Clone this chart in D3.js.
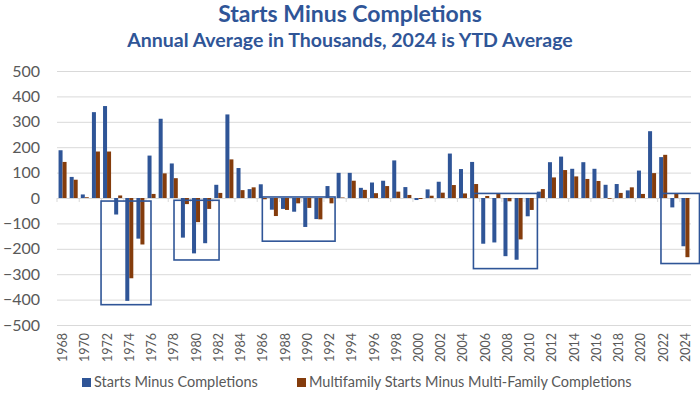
<!DOCTYPE html>
<html>
<head>
<meta charset="utf-8">
<script src="https://cdn.jsdelivr.net/npm/d3@7"></script>
<style>
  body { margin: 0; background: #fff; }
  svg { font-family: Lato, "Open Sans", sans-serif; }
</style>
</head>
<body>
<div id="vis"></div>
<script>
// chart data (thousands, annual average)
const YEARS = [1968, 1969, 1970, 1971, 1972, 1973, 1974, 1975, 1976, 1977,
               1978, 1979, 1980, 1981, 1982, 1983, 1984, 1985, 1986, 1987,
               1988, 1989, 1990, 1991, 1992, 1993, 1994, 1995, 1996, 1997,
               1998, 1999, 2000, 2001, 2002, 2003, 2004, 2005, 2006, 2007,
               2008, 2009, 2010, 2011, 2012, 2013, 2014, 2015, 2016, 2017,
               2018, 2019, 2020, 2021, 2022, 2023, 2024];
const TOTAL = [188, 83, 14, 338, 362, -65, -405, -160, 167, 312,
               136, -156, -218, -178, 52, 329, 118, 35, 54, -46,
               -43, -54, -114, -83, 47, 99, 99, 40, 61, 68,
               148, 43, -8, 34, 64, 175, 114, 142, -180, -175,
               -229, -243, -72, 25, 141, 163, 115, 141, 115, 52,
               55, 30, 108, 263, 161, -37, -190];
const MULTI = [142, 72, 3, 183, 183, 10, -316, -183, 16, 97,
               78, -24, -95, -43, 20, 152, 31, 42, -5, -71,
               -47, -21, -39, -84, -21, 2, 68, 32, 19, 47,
               25, 12, -4, 9, 21, 51, 18, 55, 8, 17,
               -13, -163, -47, 35, 81, 110, 85, 75, 67, -3,
               20, 42, 16, 98, 170, 16, -233];
const Y_TICKS = [-500, -400, -300, -200, -100, 0, 100, 200, 300, 400, 500];
const SERIES_NAMES = ['Starts Minus Completions', 'Multifamily Starts Minus Multi-Family Completions'];
// highlighted periods: [from year, to year, top value, bottom value]
const BOXES = [[1971.46, 1975.95, -12, -420],
               [1978.02, 1982.07, -9, -244],
               [1985.96, 1992.5, 4, -170],
               [2004.94, 2010.69, 18, -278],
               [2021.8, 2025.26, 18, -258]];

const WIDTH = 700, HEIGHT = 394;
const MARGINS = {left: 57, right: 9, top: 71, bottom: 69};
const COLORS = ['#2F5597', '#843C0C'];
const TEXT_COLOR = '#595959';

const svg = d3.select('#vis').append('svg')
    .attr('width', WIDTH)
    .attr('height', HEIGHT);

const X_SCALE = d3.scaleBand()
    .domain(YEARS)
    .range([MARGINS.left, WIDTH - MARGINS.right])
    .paddingInner(0.28)
    .paddingOuter(0.14);

const X_SUB = d3.scaleBand()
    .domain([0, 1])
    .range([0, X_SCALE.bandwidth()]);

// continuous year position for the boxes
const X_LIN = d3.scaleLinear()
    .domain([YEARS[0] - 0.5, YEARS[YEARS.length - 1] + 0.5])
    .range([MARGINS.left, WIDTH - MARGINS.right]);

const Y_SCALE = d3.scaleLinear()
    .domain([-500, 500])
    .range([HEIGHT - MARGINS.bottom, MARGINS.top]);

// titles
svg.append('text')
    .attr('x', 350).attr('y', 22)
    .attr('text-anchor', 'middle')
    .attr('font-size', 23).attr('font-weight', 'bold')
    .attr('fill', '#2F5597')
    .text('Starts Minus Completions');
svg.append('text')
    .attr('x', 350).attr('y', 47)
    .attr('text-anchor', 'middle')
    .attr('font-size', 19.5).attr('font-weight', 'bold')
    .attr('fill', '#2F5597')
    .text('Annual Average in Thousands, 2024 is YTD Average');

// y axis with gridlines
const yAxis = svg.append('g')
    .attr('transform', 'translate(' + MARGINS.left + ',0)')
    .call(d3.axisLeft(Y_SCALE).tickValues(Y_TICKS)
        .tickSize(-(WIDTH - MARGINS.left - MARGINS.right))
        .tickPadding(17)
        .tickFormat(d3.format('d')));
yAxis.select('.domain').remove();
yAxis.selectAll('line').attr('stroke', '#D9D9D9');
yAxis.selectAll('text')
    .attr('font-size', 16)
    .attr('fill', TEXT_COLOR)
    .attr('font-family', 'Lato, sans-serif');

// small ticks on zero line, every two categories
svg.append('g').selectAll('line')
    .data(YEARS.filter((d, i) => i % 2 === 0))
    .enter().append('line')
    .attr('x1', d => X_LIN(d - 0.5)).attr('x2', d => X_LIN(d - 0.5))
    .attr('y1', Y_SCALE(0)).attr('y2', Y_SCALE(0) + 4)
    .attr('stroke', '#D9D9D9');

// bars
const rows = YEARS.map((y, i) => ({year: y, vals: [TOTAL[i], MULTI[i]]}));
svg.append('g').selectAll('g')
    .data(rows)
    .enter().append('g')
    .attr('transform', d => 'translate(' + X_SCALE(d.year) + ',0)')
    .selectAll('rect')
    .data(d => d.vals.map((v, k) => ({k: k, v: v})))
    .enter().append('rect')
    .attr('x', d => X_SUB(d.k))
    .attr('width', X_SUB.bandwidth())
    .attr('y', d => Y_SCALE(Math.max(0, d.v)))
    .attr('height', d => Math.abs(Y_SCALE(d.v) - Y_SCALE(0)))
    .attr('fill', d => COLORS[d.k]);

// highlight boxes
svg.append('g').selectAll('rect')
    .data(BOXES)
    .enter().append('rect')
    .attr('x', d => X_LIN(d[0]))
    .attr('width', d => X_LIN(d[1]) - X_LIN(d[0]))
    .attr('y', d => Y_SCALE(d[2]))
    .attr('height', d => Y_SCALE(d[3]) - Y_SCALE(d[2]))
    .attr('fill', 'none')
    .attr('stroke', '#2F5597')
    .attr('stroke-width', 1.6);

// x labels (rotated)
svg.append('g').selectAll('text')
    .data(YEARS.filter((d, i) => i % 2 === 0))
    .enter().append('text')
    .attr('transform', d => 'translate(' + (X_SCALE(d) + X_SCALE.bandwidth() / 2 + 4.5) + ',333) rotate(-90)')
    .attr('text-anchor', 'end')
    .attr('font-size', 12.5)
    .attr('fill', TEXT_COLOR)
    .text(d => d);

// legend
const LEGEND_X = [82, 297];
const legend = svg.append('g').selectAll('g')
    .data(SERIES_NAMES)
    .enter().append('g')
    .attr('transform', (d, i) => 'translate(' + LEGEND_X[i] + ',378)');
legend.append('rect')
    .attr('width', 9).attr('height', 9)
    .attr('fill', (d, i) => COLORS[i]);
legend.append('text')
    .attr('x', 12).attr('y', 9)
    .attr('font-size', 14.5)
    .attr('fill', TEXT_COLOR)
    .text(d => d);
</script>
</body>
</html>
